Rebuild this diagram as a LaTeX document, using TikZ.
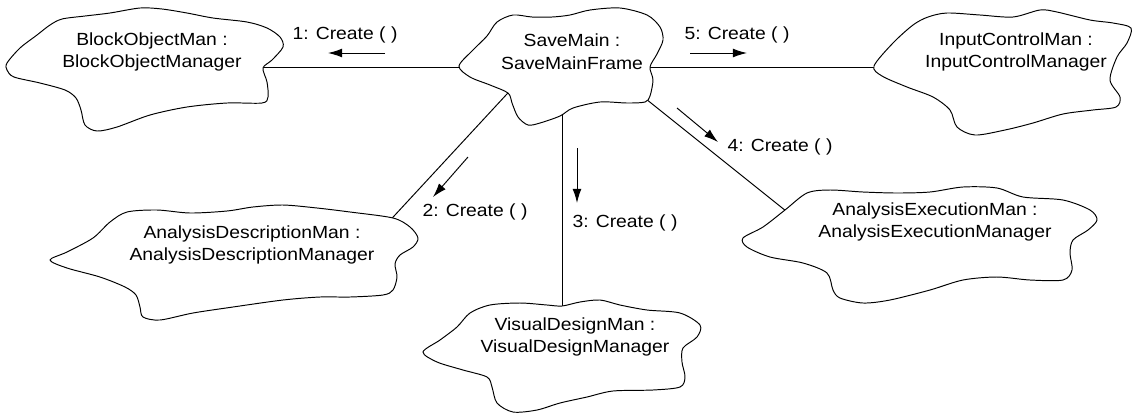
\documentclass[tikz,border=0pt]{standalone}
\usepackage{fontspec}
\setmainfont{Liberation Sans}[FakeStretch=1.1]
\usepackage{tikz}
\usetikzlibrary{arrows.meta,backgrounds}

\begin{document}
\begin{tikzpicture}[x=0.02cm,y=-0.02cm,
    obj/.style={align=center,font=\fontsize{10}{13}\selectfont,inner sep=1pt},
    lab/.style={font=\fontsize{10}{13}\selectfont,inner sep=1pt},
    blob/.style={draw,fill=white,line width=0.55pt},
    link/.style={line width=0.55pt},
    msg/.style={-{Latex[length=8pt,width=5pt]},line width=0.55pt}]
\useasboundingbox (0,0) rectangle (1137,414);

% object clouds
\draw[blob] plot[smooth cycle,tension=0.5] coordinates {(7,63) (20,48) (37,35) (50,25) (62,19) (85,16) (110,13) (140,8) (162,9) (187,13) (213,18) (247,22) (267,28) (280,37) (283,47) (272,60) (263,68) (267,82) (268,97) (262,103) (227,103) (187,107) (150,115) (117,127) (97,131) (85,125) (81,110) (76,98) (65,90) (40,83) (14,77) (7,70)};
\draw[blob] plot[smooth cycle,tension=0.5] coordinates {(459,66) (473,50) (487,36) (497,22) (513,15) (532,17) (552,17) (570,15) (590,10) (620,8) (647,15) (660,27) (663,40) (657,54) (650,67) (653,80) (650,96) (645,102) (627,103) (600,102) (573,108) (560,116) (540,123) (528,125) (518,117) (512,103) (508,93) (490,85) (470,77)};
\draw[blob] plot[smooth cycle,tension=0.5] coordinates {(874,66) (893,43) (913,25) (928,17) (947,13) (980,15) (1013,17) (1040,10) (1057,12) (1090,20) (1113,23) (1131,28) (1127,43) (1117,57) (1110,80) (1120,97) (1116,107) (1093,110) (1063,114) (1033,123) (1005,130) (975,135) (957,127) (950,110) (933,97) (907,87) (882,76)};
\draw[blob] plot[smooth cycle,tension=0.5] coordinates {(50,260) (67,252) (93,238) (110,222) (127,212) (157,210) (190,213) (227,211) (253,207) (283,205) (317,208) (350,212) (393,218) (410,227) (418,238) (413,247) (400,255) (395,264) (397,277) (393,290) (383,295) (350,297) (320,297) (283,300) (233,307) (193,313) (160,320) (143,317) (140,307) (136,295) (125,287) (100,277) (67,268)};
\draw[blob] plot[smooth cycle,tension=0.5] coordinates {(423,352) (440,340) (457,327) (470,313) (490,305) (520,303) (547,305) (562,306) (580,302) (600,300) (620,305) (647,310) (680,313) (700,325) (697,337) (683,348) (682,362) (685,377) (680,387) (653,390) (613,391) (587,397) (560,403) (537,410) (513,412) (497,403) (492,387) (487,377) (463,370) (437,362)};
\draw[blob] plot[smooth cycle,tension=0.5] coordinates {(743,238) (763,227) (785,210) (807,193) (830,190) (863,192) (897,193) (930,192) (963,187) (997,188) (1023,197) (1063,200) (1090,210) (1097,220) (1088,230) (1073,240) (1070,253) (1072,270) (1063,280) (1030,280) (997,277) (963,280) (930,290) (890,300) (863,303) (840,298) (833,290) (827,273) (803,263) (770,257) (747,247)};

\node[obj] (bom) at (152,52) {BlockObjectMan :\\BlockObjectManager};
\node[obj] (sm) at (572,52) {SaveMain :\\SaveMainFrame};
\node[obj] (icm) at (1016,52) {InputControlMan :\\InputControlManager};
\node[obj] (adm) at (252,245) {AnalysisDescriptionMan :\\AnalysisDescriptionManager};
\node[obj] (vdm) at (575,337) {VisualDesignMan :\\VisualDesignManager};
\node[obj] (aem) at (935,222) {AnalysisExecutionMan :\\AnalysisExecutionManager};

% ports inside the clouds
\coordinate (bom-e) at (220,67);
\coordinate (sm-w) at (520,67);
\coordinate (sm-e) at (620,67);
\coordinate (icm-w) at (930,67);
\coordinate (sm-sw) at (531,68);
\coordinate (adm-ne) at (358,255);
\coordinate (sm-s) at (562,80);
\coordinate (vdm-n) at (562,340);
\coordinate (sm-se) at (606,67);
\coordinate (aem-nw) at (826,243);

\begin{scope}[on background layer]
\draw[link] (sm-w) -- (bom-e);
\draw[link] (sm-e) -- (icm-w);
\draw[link] (sm-sw) -- (adm-ne);
\draw[link] (sm-s) -- (vdm-n);
\draw[link] (sm-se) -- (aem-nw);
\end{scope}

% messages
\node[lab] (l1) at (345,35) {1: Create ( )};
\node[lab] (l2) at (475,212) {2: Create ( )};
\node[lab] (l3) at (625,223) {3: Create ( )};
\node[lab] (l4) at (780,147) {4: Create ( )};
\node[lab] (l5) at (737,35) {5: Create ( )};
\draw[msg] (385,53) -- (328,53);
\draw[msg] (468,157) -- (433,197);
\draw[msg] (577,148) -- (577,203);
\draw[msg] (677,108) -- (718,142);
\draw[msg] (690,53) -- (747,53);
\end{tikzpicture}
\end{document}
